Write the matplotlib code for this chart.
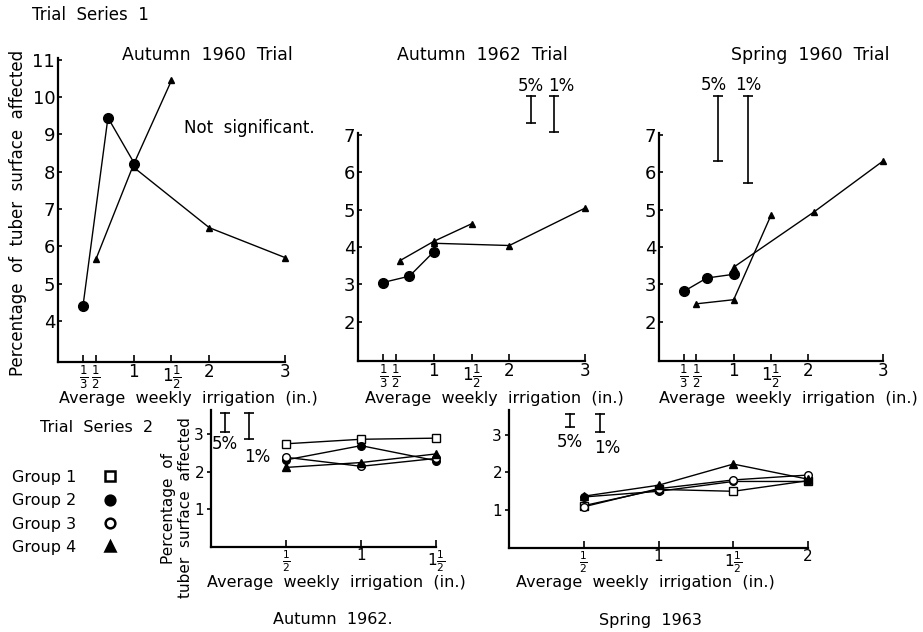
import matplotlib
matplotlib.use('Agg')
import matplotlib.pyplot as plt
from matplotlib.lines import Line2D

plt.rcParams['font.family'] = ['DejaVu Sans']
plt.rcParams['mathtext.fontset'] = 'dejavusans'

W, H = 923, 632

# ---- Trial Series 1 : three-treatment trials ----
top_ticks = [1/3, 1/2, 1, 1.5, 2, 3]
top_ticklabels = [r'$\frac{1}{3}$', r'$\frac{1}{2}$', '1', r'$1\frac{1}{2}$', '2', '3']

a60_circ_x = [0.33, 0.66, 1.01]
a60_circ_y = [4.4, 9.45, 8.22]
a60_triA_x = [0.5, 1.0, 1.5]
a60_triA_y = [5.65, 8.2, 10.45]
a60_triB_x = [1.0, 2.0, 3.0]
a60_triB_y = [8.12, 6.5, 5.7]

a62_circ_x = [0.33, 0.68, 1.0]
a62_circ_y = [3.05, 3.22, 3.87]
a62_triA_x = [0.55, 1.0, 1.5]
a62_triA_y = [3.63, 4.15, 4.62]
a62_triB_x = [1.0, 2.0, 3.0]
a62_triB_y = [4.1, 4.04, 5.04]
a62_sig_x = [2.29, 2.59]
a62_sig_lo = [7.32, 7.08]
a62_sig_hi = [8.04, 8.04]

s60_circ_x = [0.33, 0.64, 1.0]
s60_circ_y = [2.81, 3.17, 3.27]
s60_triA_x = [0.5, 1.0, 1.5]
s60_triA_y = [2.48, 2.59, 4.85]
s60_triB_x = [1.0, 2.07, 3.0]
s60_triB_y = [3.46, 4.93, 6.3]
s60_sig_x = [0.79, 1.19]
s60_sig_lo = [6.3, 5.71]
s60_sig_hi = [8.05, 8.05]

sig_labels = ['5%', '1%']

# ---- Trial Series 2 : four groups ----
group_names = ['Group 1', 'Group 2', 'Group 3', 'Group 4']
group_marker = ['s', 'o', 'o', '^']
group_fill = ['white', 'black', 'white', 'black']

a62b_x = [0.5, 1.0, 1.5]
a62b_groups = [[2.75, 2.87, 2.9],
               [2.32, 2.7, 2.3],
               [2.39, 2.15, 2.36],
               [2.12, 2.25, 2.48]]
a62b_sig_x = [0.09, 0.25]
a62b_sig_lo = [3.07, 2.89]
a62b_sig_hi = [3.57, 3.57]

s63_x = [0.5, 1.0, 1.5, 2.0]
s63_groups = [[1.12, 1.55, 1.5, 1.78],
              [1.35, 1.5, 1.76, 1.76],
              [1.09, 1.57, 1.8, 1.93],
              [1.37, 1.66, 2.22, 1.82]]
s63_sig_x = [0.41, 0.61]
s63_sig_lo = [3.19, 3.06]
s63_sig_hi = [3.55, 3.55]


def px_axes(fig, left, top, right, bottom):
    return fig.add_axes([left / W, 1 - bottom / H, (right - left) / W, (bottom - top) / H])


def ftext(fig, x, y, s, **kw):
    kw.setdefault('fontsize', 12)
    kw.setdefault('ha', 'center')
    kw.setdefault('va', 'center')
    fig.text(x / W, 1 - y / H, s, **kw)


def style_axes(ax, xlim, ylim, xticks, xticklabels, yticks, xsize, ysize, ydir):
    for s in ('top', 'right'):
        ax.spines[s].set_visible(False)
    for s in ('left', 'bottom'):
        ax.spines[s].set_linewidth(1.6)
    ax.set_xlim(*xlim)
    ax.set_ylim(*ylim)
    ax.set_xticks(xticks)
    ax.set_xticklabels(xticklabels)
    ax.set_yticks(yticks)
    ax.tick_params(axis='x', direction='in', length=5, width=1.2, pad=1, labelsize=xsize)
    ax.tick_params(axis='y', direction=ydir, length=3, width=1.2, pad=2, labelsize=ysize)
    ax.patch.set_alpha(0)


def sig_bars(ax, xs, lo, hi, below=False, offsets=((0, 0), (0, 0))):
    for x, a, b, lab, off in zip(xs, lo, hi, sig_labels, offsets):
        ax.plot([x, x], [a, b], '-', color='black', lw=1.2, marker='_', ms=7,
                mew=1.2, clip_on=False)
        if below:
            ax.annotate(lab, (x, a), xytext=off, textcoords='offset points',
                        ha='center', va='top', fontsize=12, annotation_clip=False)
        else:
            ax.annotate(lab, (x, b), xytext=(off[0], off[1] + 1), textcoords='offset points',
                        ha='center', va='bottom', fontsize=12, annotation_clip=False)


def three_series(ax, cx, cy, ax_, ay, bx, by):
    ax.plot(cx, cy, '-', color='black', lw=1, marker='o', ms=7, clip_on=False)
    ax.plot(ax_, ay, '-', color='black', lw=1, marker='^', ms=5, clip_on=False)
    ax.plot(bx, by, '-', color='black', lw=1, marker='^', ms=5, clip_on=False)


fig = plt.figure(figsize=(W / 100, H / 100), dpi=100)

# Autumn 1960
ax1 = px_axes(fig, 58, 58, 285, 362)
style_axes(ax1, (0, 3), (2.9, 11.05), top_ticks, top_ticklabels, range(4, 12), 12, 13, 'in')
three_series(ax1, a60_circ_x, a60_circ_y, a60_triA_x, a60_triA_y, a60_triB_x, a60_triB_y)
ax1.text(1.67, 9.18, 'Not  significant.', fontsize=12, ha='left', va='center', clip_on=False)

# Autumn 1962
ax2 = px_axes(fig, 358, 133, 585, 361)
style_axes(ax2, (0, 3), (0.95, 7.05), top_ticks, top_ticklabels, range(2, 8), 12, 13, 'in')
three_series(ax2, a62_circ_x, a62_circ_y, a62_triA_x, a62_triA_y, a62_triB_x, a62_triB_y)
sig_bars(ax2, a62_sig_x, a62_sig_lo, a62_sig_hi, offsets=((0, 0), (5, 0)))

# Spring 1960
ax3 = px_axes(fig, 659, 133, 883, 361)
style_axes(ax3, (0, 3), (0.95, 7.05), top_ticks, top_ticklabels, range(2, 8), 12, 13, 'in')
three_series(ax3, s60_circ_x, s60_circ_y, s60_triA_x, s60_triA_y, s60_triB_x, s60_triB_y)
sig_bars(ax3, s60_sig_x, s60_sig_lo, s60_sig_hi, offsets=((-3, 0), (0, 0)))

ftext(fig, 90, 15, 'Trial  Series  1', fontsize=12)
ftext(fig, 207, 55, 'Autumn  1960  Trial', fontsize=12.5)
ftext(fig, 482, 55, 'Autumn  1962  Trial', fontsize=12.5)
ftext(fig, 810, 55, 'Spring  1960  Trial', fontsize=12.5)
ftext(fig, 18, 213, 'Percentage  of  tuber  surface  affected', rotation=90, fontsize=12)
for cx in (188, 494, 788):
    ftext(fig, cx, 398, 'Average  weekly  irrigation  (in.)', fontsize=11.5)

# Series 2 : Autumn 1962
ax4 = px_axes(fig, 211, 410, 436, 547)
style_axes(ax4, (0, 1.5), (0, 3.65), a62b_x, top_ticklabels[1:4], [1, 2, 3], 11, 11, 'out')
for ys, m, fc in zip(a62b_groups, group_marker, group_fill):
    ax4.plot(a62b_x, ys, '-', color='black', lw=1, marker=m, ms=5.5, mfc=fc,
             mec='black', clip_on=False)
sig_bars(ax4, a62b_sig_x, a62b_sig_lo, a62b_sig_hi, below=True, offsets=((0, -2), (6, -7)))

# Series 2 : Spring 1963
ax5 = px_axes(fig, 509, 410, 808, 548)
style_axes(ax5, (0, 2), (0, 3.65), s63_x, top_ticklabels[1:5], [1, 2, 3], 11, 11, 'out')
for ys, m, fc in zip(s63_groups, group_marker, group_fill):
    ax5.plot(s63_x, ys, '-', color='black', lw=1, marker=m, ms=5.5, mfc=fc,
             mec='black', clip_on=False)
sig_bars(ax5, s63_sig_x, s63_sig_lo, s63_sig_hi, below=True, offsets=((0, -4), (5, -5)))

ftext(fig, 97, 427, 'Trial  Series  2', fontsize=11.5)
ftext(fig, 177, 508, 'Percentage  of\ntuber  surface  affected', rotation=90,
      fontsize=11, linespacing=1.25)
ftext(fig, 336, 583, 'Average  weekly  irrigation  (in.)', fontsize=11.5)
ftext(fig, 645, 583, 'Average  weekly  irrigation  (in.)', fontsize=11.5)
ftext(fig, 333, 620, 'Autumn  1962.', fontsize=11.5)
ftext(fig, 650, 620, 'Spring  1963', fontsize=11.5)

# legend for the four groups
handles = [Line2D([], [], ls='none', marker=m, ms=7, mfc=fc, mec='black', mew=1.8)
           for m, fc in zip(group_marker, group_fill)]
fig.legend(handles, group_names, loc='upper left', bbox_to_anchor=(4 / W, 1 - 462 / H),
           frameon=False, markerfirst=False, handlelength=1, handletextpad=1.6,
           labelspacing=0.52, fontsize=11.5, borderpad=0)

fig.savefig('out.png', dpi=100)
